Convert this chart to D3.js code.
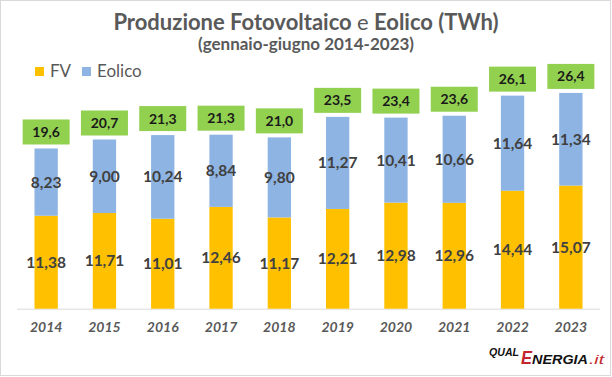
<!DOCTYPE html>
<html>
<head>
<meta charset="utf-8">
<script src="https://cdn.jsdelivr.net/npm/d3@7"></script>
<style>
  body { margin: 0; background: #fff; }
  svg { display: block; font-family: Lato, "Open Sans", sans-serif; }
</style>
</head>
<body>
<svg id="chart" width="612" height="377"></svg>
<script>
const width = 612
const height = 377

// data (gennaio-giugno, TWh)
const years = ["2014", "2015", "2016", "2017", "2018", "2019", "2020", "2021", "2022", "2023"]
const fv = [11.38, 11.71, 11.01, 12.46, 11.17, 12.21, 12.98, 12.96, 14.44, 15.07]
const eolico = [8.23, 9.00, 10.24, 8.84, 9.80, 11.27, 10.41, 10.66, 11.64, 11.34]
const totals = [19.6, 20.7, 21.3, 21.3, 21.0, 23.5, 23.4, 23.6, 26.1, 26.4]
const seriesNames = ["FV", "Eolico"]

const colors = { FV: "#FFC000", Eolico: "#8EB4E3" }
const textGrey = "#595959"
const fmt = (v, d) => v.toFixed(d).replace(".", ",")

const svg = d3.select("#chart")

// outer chart border
svg.append("rect")
    .attr("x", 0.5).attr("y", 0.5)
    .attr("width", width - 2).attr("height", height - 2)
    .attr("fill", "#fff")
    .attr("stroke", "#d9d9d9")

// scales
const x = d3.scaleBand()
    .domain(years)
    .range([17, 600])
    .paddingInner(0.6)
    .paddingOuter(0.3)

const y = d3.scaleLinear()
    .domain([0, 30])
    .range([308.7, 308.7 - 30 * 8.17])

const rows = years.map((yr, i) => ({ year: yr, FV: fv[i], Eolico: eolico[i], total: totals[i] }))
const stacked = d3.stack().keys(seriesNames)(rows)

// title
const title = svg.append("text")
    .attr("x", 306).attr("y", 30)
    .attr("text-anchor", "middle")
    .attr("fill", textGrey)
    .style("font-size", "22px")
    .style("font-weight", "bold")
title.append("tspan").text("Produzione Fotovoltaico ")
title.append("tspan").style("font-weight", "normal").text("e")
title.append("tspan").text(" Eolico (TWh)")

svg.append("text")
    .attr("x", 306).attr("y", 50)
    .attr("text-anchor", "middle")
    .attr("fill", textGrey)
    .style("font-size", "17px")
    .style("font-weight", "bold")
    .text("(gennaio-giugno 2014-2023)")

// legend
const legend = svg.append("g").attr("transform", "translate(35,67)")
const legendX = [0, 47]
seriesNames.forEach((name, i) => {
    const g = legend.append("g").attr("transform", `translate(${legendX[i]},0)`)
    g.append("rect")
        .attr("width", 9).attr("height", 9)
        .attr("fill", colors[name])
    g.append("text")
        .attr("x", 15).attr("y", 9.5)
        .attr("fill", textGrey)
        .style("font-size", "17px")
        .text(name)
})

// axis line
svg.append("line")
    .attr("x1", 17).attr("x2", 600)
    .attr("y1", y(0) + 0.5).attr("y2", y(0) + 0.5)
    .attr("stroke", "#d9d9d9")

// bars
const layers = svg.append("g").selectAll("g")
    .data(stacked)
    .join("g")
    .attr("fill", d => colors[d.key])

layers.selectAll("rect")
    .data(d => d)
    .join("rect")
    .attr("x", d => x(d.data.year))
    .attr("width", x.bandwidth())
    .attr("y", d => y(d[1]))
    .attr("height", d => y(d[0]) - y(d[1]))

// value labels inside the segments
layers.selectAll("text")
    .data(d => d.map(v => ({ v, key: d.key })))
    .join("text")
    .attr("x", d => x(d.v.data.year) + x.bandwidth() / 2)
    .attr("y", d => (y(d.v[0]) + y(d.v[1])) / 2 + 5.5)
    .attr("text-anchor", "middle")
    .attr("fill", "#404040")
    .style("font-size", "15.5px")
    .style("font-weight", "bold")
    .text(d => fmt(d.v.data[d.key], 2))

// total boxes
const boxW = 47, boxH = 25
const tot = svg.append("g").selectAll("g")
    .data(rows)
    .join("g")
    .attr("transform", d => `translate(${x(d.year) + x.bandwidth() / 2},${y(d.FV + d.Eolico) - 4 - boxH})`)
tot.append("rect")
    .attr("x", -boxW / 2).attr("width", boxW)
    .attr("height", boxH)
    .attr("fill", "#92D050")
tot.append("text")
    .attr("y", boxH / 2 + 5)
    .attr("text-anchor", "middle")
    .attr("fill", "#1a1a1a")
    .style("font-size", "14px")
    .style("font-weight", "bold")
    .text(d => fmt(d.total, 1))

// x axis labels
svg.append("g").selectAll("text")
    .data(years)
    .join("text")
    .attr("x", d => x(d) + x.bandwidth() / 2)
    .attr("y", 332)
    .attr("text-anchor", "middle")
    .attr("fill", textGrey)
    .style("font-size", "14px")
    .style("font-weight", "bold")
    .style("font-style", "italic")
    .text(d => d)

// logo
const logo = svg.append("g")
    .style("font-family", "'Liberation Sans Narrow', 'Liberation Sans', sans-serif")
    .style("font-weight", "bold")
    .style("font-style", "italic")
logo.append("text")
    .attr("x", 489).attr("y", 356)
    .attr("fill", "#111")
    .style("font-size", "11.5px")
    .attr("textLength", 30).attr("lengthAdjust", "spacingAndGlyphs")
    .text("QUAL")
logo.append("text")
    .attr("x", 521).attr("y", 364)
    .attr("fill", "#c1272d")
    .style("font-size", "18px")
    .attr("textLength", 11).attr("lengthAdjust", "spacingAndGlyphs")
    .text("E")
logo.append("text")
    .attr("x", 532).attr("y", 364)
    .attr("fill", "#111")
    .style("font-size", "12.5px")
    .attr("textLength", 56).attr("lengthAdjust", "spacingAndGlyphs")
    .text("NERGIA")
logo.append("text")
    .attr("x", 589).attr("y", 364)
    .attr("fill", "#c1272d")
    .style("font-size", "12.5px")
    .style("font-weight", "normal")
    .attr("textLength", 15).attr("lengthAdjust", "spacingAndGlyphs")
    .text(".it")
</script>
</body>
</html>
